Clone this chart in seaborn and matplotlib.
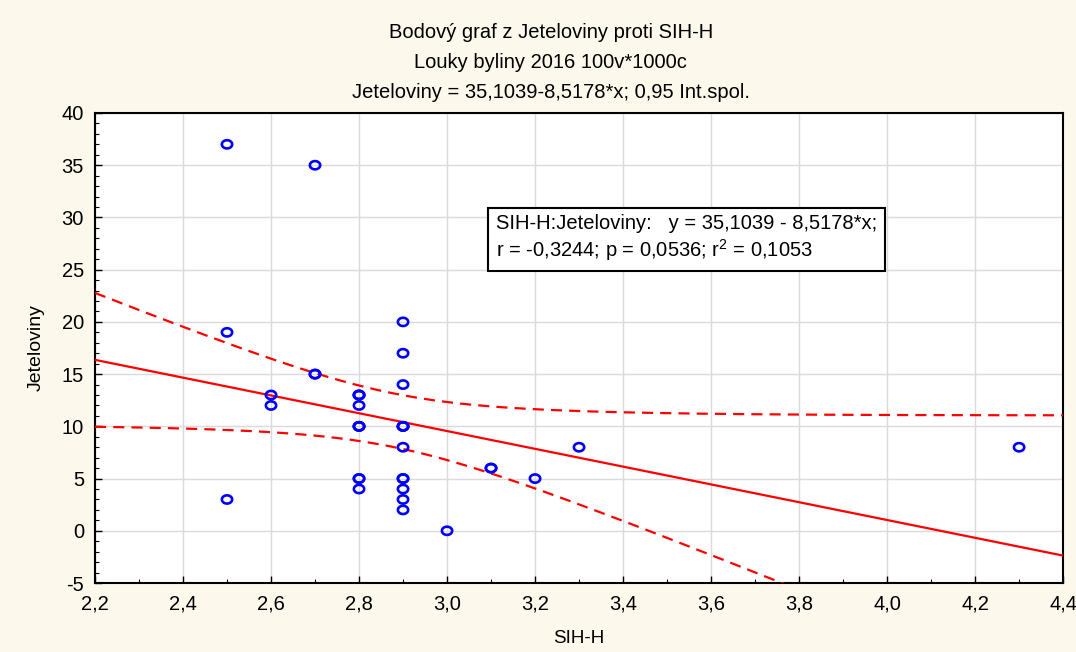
import numpy as np
import pandas as pd
import matplotlib
matplotlib.use("Agg")
import matplotlib.pyplot as plt
import seaborn as sns
from matplotlib.path import Path
from matplotlib.ticker import MultipleLocator, FixedLocator, FixedFormatter

# ---- data ----
sih_h = [2.5, 2.5, 2.5,
         2.6, 2.6,
         2.7, 2.7, 2.7,
         2.8, 2.8, 2.8, 2.8, 2.8, 2.8, 2.8, 2.8, 2.8, 2.8,
         2.9, 2.9, 2.9, 2.9, 2.9, 2.9, 2.9, 2.9, 2.9, 2.9, 2.9, 2.9,
         3.0, 3.1, 3.1, 3.2, 3.3, 4.3]
jeteloviny = [37, 19, 3,
              13, 12,
              35, 15, 15,
              13, 13, 13, 12, 10, 10, 10, 5, 5, 4,
              20, 17, 14, 10, 10, 10, 8, 5, 5, 4, 3, 2,
              0, 6, 6, 5, 8, 8]

intercept = 35.1039
slope = -8.5178
t_crit = 2.032  # t(0.975, n-2) for the 0,95 confidence band

x_ticks = [2.2, 2.4, 2.6, 2.8, 3.0, 3.2, 3.4, 3.6, 3.8, 4.0, 4.2, 4.4]
x_tick_labels = ["2,2", "2,4", "2,6", "2,8", "3,0", "3,2", "3,4", "3,6", "3,8", "4,0", "4,2", "4,4"]
y_ticks = [-5, 0, 5, 10, 15, 20, 25, 30, 35, 40]
y_tick_labels = ["-5", "0", "5", "10", "15", "20", "25", "30", "35", "40"]

title_lines = ["Bodový graf z Jeteloviny proti SIH-H",
               "Louky byliny 2016 100v*1000c",
               "Jeteloviny = 35,1039-8,5178*x; 0,95 Int.spol."]
stats_text = ("SIH-H:Jeteloviny:   y = 35,1039 - 8,5178*x;\n"
              "r = -0,3244; p = 0,0536; r$^2$ = 0,1053")

# ---- style ----
sns.set_theme(style="white")
bg = "#FDF8EC"
plt.rcParams["font.family"] = ["Liberation Sans", "DejaVu Sans"]
plt.rcParams["mathtext.fontset"] = "custom"
plt.rcParams["mathtext.rm"] = "Liberation Sans"
plt.rcParams["mathtext.it"] = "Liberation Sans"
plt.rcParams["axes.unicode_minus"] = False
plt.rcParams["text.color"] = "black"
plt.rcParams["axes.labelcolor"] = "black"
plt.rcParams["xtick.color"] = "black"
plt.rcParams["ytick.color"] = "black"

fig = plt.figure(figsize=(10.76, 6.52), dpi=100, facecolor=bg)
ax = fig.add_axes([0.0883, 0.1058, 0.8997, 0.7209])
ax.set_facecolor("white")

df = pd.DataFrame({"SIH-H": sih_h, "Jeteloviny": jeteloviny})

# regression line and confidence band computed from the data
x = np.asarray(sih_h, float)
y = np.asarray(jeteloviny, float)
n = len(x)
xbar = x.mean()
sxx = ((x - xbar) ** 2).sum()
resid = y - (intercept + slope * x)
s = np.sqrt((resid ** 2).sum() / (n - 2))
xs = np.linspace(x_ticks[0], x_ticks[-1], 300)
fit = intercept + slope * xs
half = t_crit * s * np.sqrt(1.0 / n + (xs - xbar) ** 2 / sxx)
band = pd.DataFrame({"x": xs, "fit": fit, "lo": fit - half, "hi": fit + half})

sns.lineplot(data=band, x="x", y="fit", ax=ax, color="#FF0000", lw=1.6, zorder=3)
sns.lineplot(data=band, x="x", y="hi", ax=ax, color="#FF0000", lw=1.6,
             linestyle=(0, (5, 3.2)), zorder=3)
sns.lineplot(data=band, x="x", y="lo", ax=ax, color="#FF0000", lw=1.6,
             linestyle=(0, (5, 3.2)), zorder=3)

# slightly wide open ellipse marker, like the reference
th = np.linspace(0, 2 * np.pi, 41)
ellipse = Path(np.column_stack([1.25 * np.cos(th), np.sin(th)]), closed=True)
sns.scatterplot(data=df, x="SIH-H", y="Jeteloviny", ax=ax, marker=ellipse, s=55,
                facecolor="none", edgecolor="#0000FF", linewidth=1.9, zorder=4)

ax.set_xlim(x_ticks[0], x_ticks[-1])
ax.set_ylim(y_ticks[0], y_ticks[-1])
ax.xaxis.set_major_locator(FixedLocator(x_ticks))
ax.xaxis.set_major_formatter(FixedFormatter(x_tick_labels))
ax.yaxis.set_major_locator(FixedLocator(y_ticks))
ax.yaxis.set_major_formatter(FixedFormatter(y_tick_labels))
ax.xaxis.set_minor_locator(MultipleLocator(0.1))
ax.yaxis.set_minor_locator(MultipleLocator(1))
ax.tick_params(axis="both", which="major", direction="in", length=5, width=1,
               color="black", bottom=True, left=True)
ax.tick_params(axis="both", which="minor", direction="in", length=3, width=0.8,
               color="black", bottom=True, left=True)
ax.tick_params(axis="x", which="major", labelsize=14.5, pad=8)
ax.tick_params(axis="y", which="major", labelsize=14.5, pad=8)
ax.grid(True, which="major", color="#DADADA", lw=1)
ax.set_axisbelow(True)
for sp in ax.spines.values():
    sp.set_visible(True)
    sp.set_color("black")
    sp.set_linewidth(1.5)

ax.set_xlabel("SIH-H", fontsize=13.5, labelpad=12)
ax.set_ylabel("Jeteloviny", fontsize=14, labelpad=12)

for i, line in enumerate(title_lines):
    fig.text(0.512, 1 - (33 + 29.5 * i) / 652, line, ha="center", va="center",
             fontsize=14.5, color="black")

ax.text(0.414, 0.785, stats_text, transform=ax.transAxes, ha="left", va="top",
        fontsize=14.5, linespacing=1.22, zorder=6,
        bbox=dict(boxstyle="square,pad=0.4", facecolor="white",
                  edgecolor="black", linewidth=1.5))

fig.savefig("out.png", dpi=100, facecolor=bg)
